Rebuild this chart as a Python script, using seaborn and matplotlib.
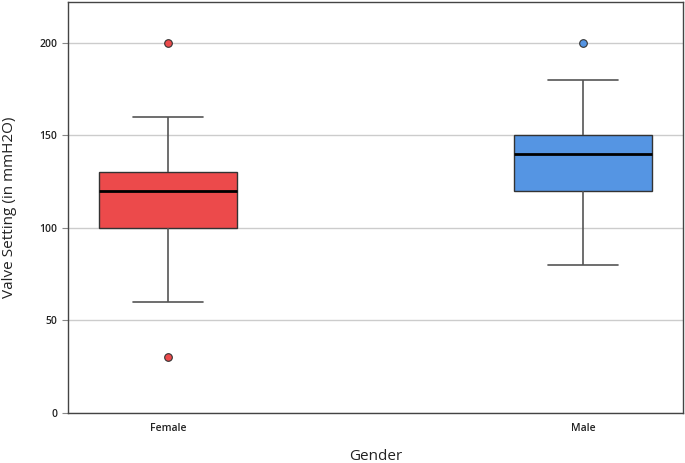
import matplotlib
matplotlib.use("Agg")
import matplotlib.pyplot as plt
import seaborn as sns
import pandas as pd

# Data (raw values chosen so quartiles/whiskers/outliers match the chart)
female_values = [30, 60, 100, 110, 120, 125, 130, 160, 200]
male_values = [80, 120, 120, 130, 140, 145, 150, 180, 200]
categories = ["Female", "Male"]
box_colors = ["#EC4A4B", "#5595E3"]
y_ticks = [0, 50, 100, 150, 200]

df = pd.DataFrame({
    "Gender": ["Female"] * len(female_values) + ["Male"] * len(male_values),
    "Valve": female_values + male_values,
})

sns.set_style("white")
plt.rcParams["font.family"] = ["Open Sans", "DejaVu Sans"]

fig = plt.figure(figsize=(6.85, 4.63), dpi=100)
ax = fig.add_axes([68 / 685, 50 / 463, 615 / 685, 411 / 463])

sns.boxplot(
    data=df, x="Gender", y="Valve", hue="Gender", order=categories,
    palette=dict(zip(categories, box_colors)), legend=False,
    width=0.333, whis=1.5, ax=ax,
    linecolor="#333333", linewidth=1.0,
    medianprops=dict(color="black", linewidth=2),
    whiskerprops=dict(color="#555555", linewidth=1.2),
    capprops=dict(color="#555555", linewidth=1.2),
    flierprops=dict(marker="o", markersize=5.5, markeredgecolor="#333333",
                    markeredgewidth=0.8),
    saturation=1,
)

# colour outliers to match boxes
for line in ax.lines:
    if line.get_marker() == "o":
        xd = line.get_xdata()
        if len(xd):
            idx = int(round(xd[0]))
            line.set_markerfacecolor(box_colors[idx])

ax.set_xlim(-0.241, 1.241)
ax.set_ylim(0, 222)
ax.set_yticks(y_ticks)
ax.yaxis.grid(True, color="#CCCCCC", linewidth=1.0)
ax.set_axisbelow(True)
for s in ax.spines.values():
    s.set_color("#444444")
    s.set_linewidth(1.0)

ax.tick_params(axis="y", left=True, length=4, color="#888888", labelsize=7.5, labelcolor="#222222")
ax.tick_params(axis="x", bottom=False, length=0, labelsize=7.5, labelcolor="#222222", pad=7)
for lbl in ax.get_xticklabels() + ax.get_yticklabels():
    lbl.set_fontweight("semibold")
ax.set_xlabel("Gender", fontsize=11, color="#222222", labelpad=11)
ax.set_ylabel("Valve Setting (in mmH2O)", fontsize=11, color="#222222", labelpad=16)

fig.savefig("out.png", dpi=100)
